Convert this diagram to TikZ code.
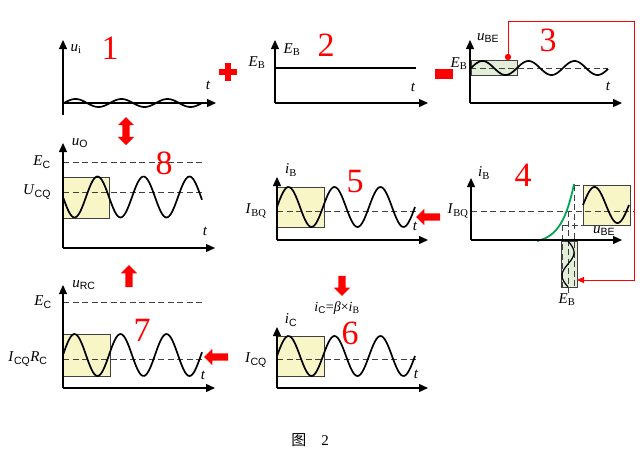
\documentclass[tikz,border=0pt]{standalone}
\usepackage{fontspec}
\setmainfont{Liberation Serif}
\setsansfont{Liberation Sans}
\newfontfamily\cjk{Noto Sans CJK SC}
\usetikzlibrary{arrows.meta, shapes.arrows}
\definecolor{sigRed}{HTML}{FF0000}
\definecolor{boxYellow}{HTML}{F8F5C6}
\definecolor{boxGreen}{HTML}{E3EED8}
\definecolor{curveGreen}{HTML}{00A551}
\definecolor{refGray}{HTML}{404040}

\newcommand{\sbs}[1]{\textsubscript{\sffamily #1}}
% x0, y0, length, amplitude (period 46)
\newcommand{\sinewave}[4]{%
  \draw[wave] plot[domain=0:#3, samples=90, smooth] ({#1+\x},{#2-(#4)*sin(7.8261*\x)});}

\begin{document}
\begin{tikzpicture}[x=1pt, y=-1pt,
      font=\fontsize{15}{17}\selectfont,
      axis/.style={-{Triangle[length=9pt,width=8pt]}, line width=1.3pt},
      wave/.style={line width=1.7pt},
      ref/.style={dash pattern=on 6pt off 3.5pt, line width=1pt, refGray},
      hold/.style={draw=black!75, line width=0.8pt, fill=#1},
      num/.style={text=sigRed, font=\fontsize{34}{34}\selectfont},
      redarrow/.style={single arrow, fill=sigRed, inner sep=3.5pt,
                       minimum height=24pt, single arrow head extend=4.5pt}
    ]
    \useasboundingbox (0,0) rectangle (640,458);

    % 1: input signal
    \sinewave{64}{103}{138}{4}
    \draw[axis] (63,115) -- (63,40);
    \draw[axis] (63,103) -- (216,103);
    \node (ui) at (76,49) {\textit{u}\textsubscript{i}};
    \node[num] (n1) at (110,48) {1};
    \node (t1) at (208,85) {\textit{t}};
    \fill[sigRed] (219,69) rectangle (237,75);
    \fill[sigRed] (225,63) rectangle (231,81);

    % 2: bias
    \draw[line width=2.4pt] (275,68) -- (416,68);
    \draw[axis] (275,103) -- (275,40);
    \draw[axis] (275,103) -- (428,103);
    \node (eb2) at (292,50) {\textit{E}\textsubscript{B}};
    \node (eb2l) at (257,63) {\textit{E}\textsubscript{B}};
    \node[num] (n2) at (326,45) {2};
    \node (t2) at (413,87) {\textit{t}};
    \fill[sigRed] (435,69) rectangle (453,79);

    % 3: base-emitter voltage
    \fill[hold=boxGreen] (471,60) rectangle (517,75);
    \draw[ref] (470,68) -- (608,68);
    \sinewave{471}{68}{137}{7}
    \draw[axis] (470,103) -- (470,40);
    \draw[axis] (470,103) -- (622,103);
    \node (ube3) at (488,38) {\textit{u}\sbs{BE}};
    \node (eb3) at (459,64) {\textit{E}\textsubscript{B}};
    \node[num] (n3) at (548,40) {3};
    \node (t3) at (608,86) {\textit{t}};

    % 4: input characteristic
    \fill[hold=boxYellow] (583,185) rectangle (630,225);
    \fill[hold=boxGreen] (561,241) rectangle (577,287);
    \draw[ref] (471,211) -- (634,211);
    \draw[ref] (574,185) -- (583,185);
    \draw[ref] (562,225) -- (583,225);
    \draw[ref] (562,225) -- (562,287);
    \draw[ref] (568,211) -- (568,296);
    \draw[ref] (574,185) -- (574,287);
    \sinewave{583}{205}{46}{18}
    \draw[line width=1.2pt] plot[domain=0:46, samples=60, smooth]
      ({568+6*sin(7.8261*\x)},{241+\x});
    \draw[curveGreen, line width=1.8pt] plot[domain=0:1, samples=40, smooth]
      ({537+37*\x},{241-57*(exp(3*\x)-1)/(exp(3)-1)});
    \draw[axis] (471,240) -- (471,178);
    \draw[axis] (471,240) -- (622,240);
    \node (ib4) at (484,173) {\textit{i}\textsubscript{B}};
    \node (ibq4) at (458,211) {\textit{I}\textsubscript{BQ}};
    \node[num] (n4) at (523,175) {4};
    \node (ube4) at (604,231) {\textit{u}\sbs{BE}};
    \node (eb4) at (567,300) {\textit{E}\textsubscript{B}};

    % feedback from 3 to 4
    \coordinate (tap) at (508,57);
    \coordinate (corner) at (634,21);
    \coordinate (hit) at (577,280);
    \draw[sigRed, line width=0.9pt, -{Triangle[length=7pt,width=6pt]}]
      (tap) |- (corner) |- (hit);
    \fill[sigRed] (tap) circle (3.2pt);

    % 5: base current
    \fill[hold=boxYellow] (277,187) rectangle (324,227);
    \draw[ref] (277,211) -- (416,211);
    \sinewave{277}{207}{138}{20}
    \draw[axis] (277,240) -- (277,177);
    \draw[axis] (277,240) -- (428,240);
    \node (ib5) at (291,170) {\textit{i}\textsubscript{B}};
    \node (ibq5) at (256,211) {\textit{I}\textsubscript{BQ}};
    \node[num] (n5) at (355,182) {5};
    \node (t5) at (415,226) {\textit{t}};
    \node[redarrow, shape border rotate=180] (a45) at (430,217) {};

    % 6: collector current
    \fill[hold=boxYellow] (277,336) rectangle (324,376);
    \draw[ref] (277,359) -- (416,359);
    \sinewave{277}{356}{138}{20}
    \draw[axis] (277,388) -- (277,327);
    \draw[axis] (277,388) -- (428,388);
    \node (ic6) at (291,320) {\textit{i}\sbs{C}};
    \node (icq6) at (256,360) {\textit{I}\sbs{CQ}};
    \node[num] (n6) at (350,333) {6};
    \node (t6) at (416,374) {\textit{t}};
    \node[font=\fontsize{14}{16}\selectfont] (beta) at (337,308)
      {\textit{i}\sbs{C}=\textit{β}×\textit{i}\textsubscript{B}};
    \node[redarrow, shape border rotate=270, minimum height=20pt] (a56) at (342,284) {};

    % 7: voltage on RC
    \fill[hold=boxYellow] (63,334) rectangle (110,376);
    \draw[ref] (63,302) -- (205,302);
    \draw[ref] (63,359) -- (205,359);
    \sinewave{63}{355}{139}{21}
    \draw[axis] (63,388) -- (63,285);
    \draw[axis] (63,388) -- (215,388);
    \node (urc7) at (84,285) {\textit{u}\sbs{RC}};
    \node (ec7) at (43,302) {\textit{E}\sbs{C}};
    \node (icr7) at (28,359) {\textit{I}\sbs{CQ}\textit{R}\sbs{C}};
    \node[num] (n7) at (142,330) {7};
    \node (t7) at (203,375) {\textit{t}};
    \node[redarrow, shape border rotate=180] (a67) at (218,357) {};
    \node[redarrow, shape border rotate=90, minimum height=22pt] (a78) at (129,278) {};

    % 8: output voltage
    \fill[hold=boxYellow] (63,177) rectangle (109,218);
    \draw[ref] (63,162) -- (205,162);
    \draw[ref] (63,192) -- (205,192);
    \sinewave{63}{197}{139}{-20.5}
    \draw[axis] (63,248) -- (63,143);
    \draw[axis] (63,248) -- (215,248);
    \node (uo8) at (80,143) {\textit{u}\sbs{O}};
    \node (ec8) at (42,162) {\textit{E}\sbs{C}};
    \node (ucq8) at (37,192) {\textit{U}\sbs{CQ}};
    \node[num] (n8) at (164,163) {8};
    \node (t8) at (205,231) {\textit{t}};
    \node[double arrow, fill=sigRed, rotate=90, inner sep=3.5pt, minimum height=28pt,
          double arrow head extend=4.5pt] (a18) at (126,131) {};

    \node[font=\fontsize{15}{17}\selectfont] (cap) at (310,440) {{\cjk 图}\quad 2};
  \end{tikzpicture}
\end{document}
